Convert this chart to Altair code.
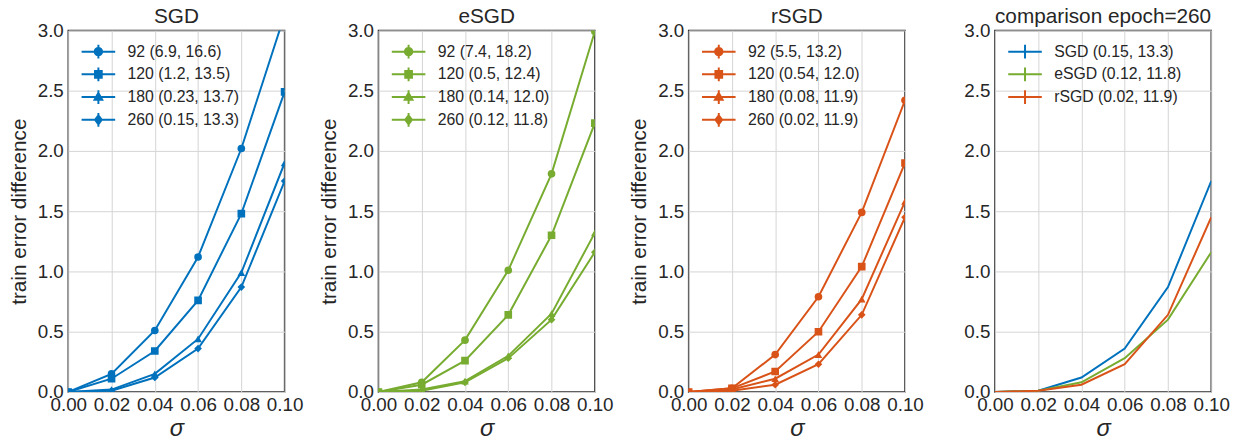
import altair as alt
import pandas as pd

sigma = [0.0, 0.02, 0.04, 0.06, 0.08, 0.10]
x_ticks = [0.0, 0.02, 0.04, 0.06, 0.08, 0.10]
y_ticks = [0.0, 0.5, 1.0, 1.5, 2.0, 2.5, 3.0]

# SGD
sgd_labels = ["92 (6.9, 16.6)", "120 (1.2, 13.5)", "180 (0.23, 13.7)", "260 (0.15, 13.3)"]
sgd_92 = [0.0, 0.15, 0.51, 1.12, 2.02, 3.13]
sgd_120 = [0.0, 0.11, 0.34, 0.76, 1.48, 2.49]
sgd_180 = [0.0, 0.02, 0.15, 0.44, 0.99, 1.90]
sgd_260 = [0.0, 0.01, 0.12, 0.36, 0.87, 1.75]

# eSGD
esgd_labels = ["92 (7.4, 18.2)", "120 (0.5, 12.4)", "180 (0.14, 12.0)", "260 (0.12, 11.8)"]
esgd_92 = [0.0, 0.08, 0.43, 1.01, 1.81, 2.99]
esgd_120 = [0.0, 0.06, 0.26, 0.64, 1.30, 2.23]
esgd_180 = [0.0, 0.02, 0.09, 0.30, 0.65, 1.32]
esgd_260 = [0.0, 0.01, 0.08, 0.28, 0.60, 1.16]

# rSGD
rsgd_labels = ["92 (5.5, 13.2)", "120 (0.54, 12.0)", "180 (0.08, 11.9)", "260 (0.02, 11.9)"]
rsgd_92 = [0.0, 0.03, 0.31, 0.79, 1.49, 2.42]
rsgd_120 = [0.0, 0.03, 0.17, 0.50, 1.04, 1.90]
rsgd_180 = [0.0, 0.02, 0.11, 0.31, 0.77, 1.58]
rsgd_260 = [0.0, 0.01, 0.06, 0.23, 0.64, 1.45]

# comparison epoch=260
cmp_labels = ["SGD (0.15, 13.3)", "eSGD (0.12, 11.8)", "rSGD (0.02, 11.9)"]
cmp_values = [sgd_260, esgd_260, rsgd_260]

BLUE = "#0072BD"
GREEN = "#77AC30"
ORANGE = "#D95319"
TEXT = "#262626"
FONT = "Liberation Sans"

plot_shapes = ["circle", "square", "triangle-up", "diamond"]
# legend glyphs: unit = 8.5 px (symbol size 289)
BAR = "M-2,0H2M0,-0.82V0.82"
legend_paths = [
    BAR + "M0.44,0A0.44,0.44 0 1,1 -0.44,0A0.44,0.44 0 1,1 0.44,0Z",
    BAR + "M-0.4,-0.4H0.4V0.4H-0.4Z",
    BAR + "M0,-0.5L0.46,0.33H-0.46Z",
    BAR + "M0,-0.53L0.4,0L0,0.53L-0.4,0Z",
]

W, H = 219, 366


def long_df(labels, series):
    rows = []
    for lab, vals in zip(labels, series):
        for s, v in zip(sigma, vals):
            rows.append({"series": lab, "sigma": s, "value": v})
    return pd.DataFrame(rows)


def x_enc():
    return alt.X(
        "sigma:Q",
        scale=alt.Scale(domain=[0, 0.1], nice=False, zero=False),
        axis=alt.Axis(values=x_ticks, format=".2f", title="σ", titleFontStyle="italic",
                      titleFontSize=24, titlePadding=2, labelPadding=4,
                      labelOverlap=False, labelFlush=False),
    )


def y_enc(title):
    return alt.Y(
        "value:Q",
        scale=alt.Scale(domain=[0, 3], nice=False),
        axis=alt.Axis(values=y_ticks, format=".1f", title=title, titlePadding=8, labelPadding=5,
                      labelOverlap=False, labelFlush=False),
    )


def legend_common(**kw):
    return alt.Legend(
        title=None, orient="none", legendX=21, legendY=12, padding=0, labelFontSize=16,
        labelColor=TEXT, labelFont=FONT, symbolSize=289, symbolStrokeWidth=2,
        labelOffset=20, rowPadding=0, labelLimit=300, symbolOpacity=1, **kw
    )


def title_params(text):
    return alt.TitleParams(text, fontSize=21, fontWeight="normal", color=TEXT, font=FONT,
                           offset=-6, frame="group")


def panel(title, color, labels, series):
    df = long_df(labels, series)
    base = alt.Chart(df)
    ytitle = "train error difference"
    line = base.mark_line(color=color, strokeWidth=2, clip=True).encode(
        x=x_enc(), y=y_enc(ytitle), detail="series:N", order="sigma:Q"
    )
    pts = base.mark_point(filled=True, color=color, size=60, opacity=1, clip=True).encode(
        x=x_enc(), y=y_enc(ytitle),
        shape=alt.Shape("series:N", scale=alt.Scale(domain=labels, range=plot_shapes), legend=None),
    )
    leg = base.mark_point(filled=True, fill=color, stroke=color, strokeWidth=2, opacity=0,
                          clip=True).encode(
        x=x_enc(), y=y_enc(ytitle),
        shape=alt.Shape("series:N", scale=alt.Scale(domain=labels, range=legend_paths),
                        sort=labels, legend=legend_common()),
    )
    return alt.layer(line, pts, leg).resolve_scale(shape="independent").properties(
        width=W, height=H, title=title_params(title),
    )


p1 = panel("SGD", BLUE, sgd_labels, [sgd_92, sgd_120, sgd_180, sgd_260])
p2 = panel("eSGD", GREEN, esgd_labels, [esgd_92, esgd_120, esgd_180, esgd_260])
p3 = panel("rSGD", ORANGE, rsgd_labels, [rsgd_92, rsgd_120, rsgd_180, rsgd_260])

cmp_df = long_df(cmp_labels, cmp_values)
p4 = alt.Chart(cmp_df).mark_line(strokeWidth=2, clip=True).encode(
    x=x_enc(),
    y=y_enc(None),
    color=alt.Color("series:N", scale=alt.Scale(domain=cmp_labels, range=[BLUE, GREEN, ORANGE]),
                    sort=cmp_labels, legend=legend_common(symbolType=BAR)),
    order="sigma:Q",
).properties(
    width=W, height=H, title=title_params("comparison epoch=260"),
)

inner = alt.hconcat(p1, p2, p3, spacing=13).resolve_scale(
    shape="independent", color="independent"
).resolve_legend(shape="independent", color="independent")

chart = alt.hconcat(inner, p4, spacing=38).resolve_scale(
    shape="independent", color="independent"
).resolve_legend(shape="independent", color="independent").properties(
    padding={"left": -1, "top": -5, "right": 0, "bottom": 0}
).configure_view(
    stroke=TEXT, strokeWidth=1.5
).configure_axis(
    labelFontSize=19, titleFontSize=21, labelColor=TEXT, titleColor=TEXT,
    labelFont=FONT, titleFont=FONT, titleFontWeight="normal",
    domain=False, ticks=False, grid=True, gridColor="#d4d4d4", gridWidth=1,
)

chart.save("out.html", embed_options={"renderer": "svg", "actions": False})
